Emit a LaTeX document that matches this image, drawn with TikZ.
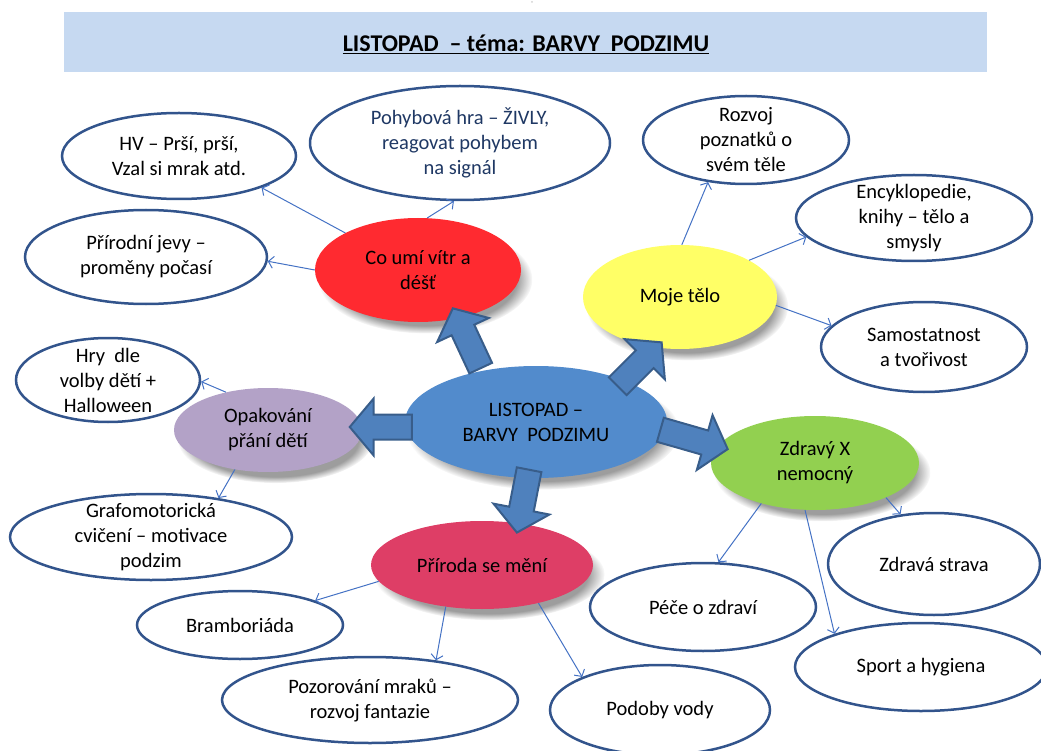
\documentclass[tikz,border=0pt]{standalone}
\usepackage{fontspec}
\setmainfont{Carlito}
\usepackage{xcolor}
\usepackage{tikz}
\usetikzlibrary{shapes.geometric,shapes.arrows,arrows.meta,shadows,fadings}

\definecolor{bandblue}{RGB}{198,217,241}
\definecolor{rimblue}{RGB}{50,84,140}
\definecolor{linkblue}{RGB}{68,114,196}
\definecolor{hubblue}{RGB}{82,139,204}
\definecolor{arrowblue}{RGB}{79,129,189}
\definecolor{arrowrim}{RGB}{56,93,138}
\definecolor{rainred}{RGB}{255,42,48}
\definecolor{bodyyellow}{RGB}{255,255,102}
\definecolor{wishlilac}{RGB}{179,162,199}
\definecolor{healthgreen}{RGB}{146,208,80}
\definecolor{naturepink}{RGB}{222,62,102}
\definecolor{navytext}{RGB}{31,56,100}

\begin{document}
\begin{tikzpicture}[x=1pt,y=-1pt,
		every node/.style={font=\fontsize{20.5}{25}\selectfont, align=center},
		topic/.style={ellipse, draw=rimblue, line width=2.5pt, fill=white, inner sep=-8pt},
		softshadow/.style={circular drop shadow={shadow xshift=7pt, shadow yshift=-9pt, shadow scale=1.04, opacity=0.55, fill=black!70}},
		theme/.style={ellipse, fill=#1, inner sep=-8pt, softshadow},
		link/.style={draw=linkblue, line width=1pt, -{Straight Barb[length=5pt,width=12pt]}},
		bigarrow/.style={single arrow, draw=arrowrim, line width=2pt, fill=arrowblue, inner xsep=0pt, inner ysep=11.5pt,
			minimum width=0pt, single arrow head extend=16pt, single arrow tip angle=100}]
	\useasboundingbox (0,0) rectangle (1041,751);
	\fill[bandblue] (64,12) rectangle (987,72);
	\node[font=\tiny] (mark) at (532,4) {¨};
	\node[font=\fontsize{24}{28}\selectfont\bfseries, anchor=base] (title) at (526,52) {\underline{LISTOPAD\ \ – téma: BARVY\ \ PODZIMU}};

	\node[topic, minimum width=234pt, minimum height=86pt] (hv) at (179,156) {HV – Prší, prší,\\Vzal si mrak atd.};
	\node[topic, minimum width=300pt, minimum height=114pt, text=navytext] (pohyb) at (460,143) {Pohybová hra – ŽIVLY,\\reagovat pohybem\\na signál};
	\node[topic, minimum width=242pt, minimum height=94pt] (jevy) at (146,257) {Přírodní jevy –\\proměny počasí};
	\node[topic, minimum width=206pt, minimum height=88pt] (rozvoj) at (746,140) {Rozvoj\\poznatků o\\svém těle};
	\node[topic, minimum width=236pt, minimum height=86pt] (encyk) at (914,218) {Encyklopedie,\\knihy – tělo a\\smysly};
	\node[topic, minimum width=206pt, minimum height=90pt] (samost) at (924,347) {Samostatnost\\a tvořivost};
	\node[topic, minimum width=184pt, minimum height=84pt] (hry) at (108,380) {Hry\ \ dle\\volby dětí +\\Halloween};
	\node[topic, minimum width=282pt, minimum height=86pt] (grafo) at (151,537) {Grafomotorická\\cvičení – motivace\\podzim};
	\node[topic, minimum width=206pt, minimum height=68pt] (brambor) at (240,625) {Bramboriáda};
	\node[topic, minimum width=296pt, minimum height=86pt] (mraky) at (370,700) {Pozorování mraků –\\rozvoj fantazie};
	\node[topic, minimum width=220pt, minimum height=90pt] (voda) at (660,710) {Podoby vody};
	\node[topic, minimum width=226pt, minimum height=88pt] (pece) at (703,607) {Péče o zdraví};
	\node[topic, minimum width=212pt, minimum height=102pt] (strava) at (934,564) {Zdravá strava};
	\node[topic, minimum width=252pt, minimum height=88pt] (sport) at (921,667) {Sport a hygiena};

	\node[theme=hubblue, minimum width=262pt, minimum height=112pt] (hub) at (536,422) {LISTOPAD –\\BARVY\ \ PODZIMU};
	\node[theme=rainred, minimum width=206pt, minimum height=104pt] (rain) at (418,270) {Co umí vítr a\\déšť};
	\node[theme=bodyyellow, minimum width=194pt, minimum height=104pt] (body) at (680,297) {Moje tělo};
	\node[theme=wishlilac, minimum width=188pt, minimum height=84pt] (wish) at (268,430) {Opakování\\přání dětí};
	\node[theme=healthgreen, minimum width=208pt, minimum height=94pt] (health) at (815,463) {Zdravý X\\nemocný};
	\node[theme=naturepink, minimum width=222pt, minimum height=88pt] (nature) at (482,565) {Příroda se mění};

	\node[bigarrow, minimum height=66pt, rotate=115] (toRain) at (469,343) {};
	\node[bigarrow, minimum height=62pt, rotate=45] (toBody) at (636,368) {};
	\node[bigarrow, minimum height=62pt, rotate=180] (toWish) at (386,427) {};
	\node[bigarrow, minimum height=70pt, rotate=-16] (toHealth) at (689,438) {};
	\node[bigarrow, minimum height=64pt, rotate=259] (toNature) at (524,496) {};

	\draw[link] (rain.153) -- (hv.-21);
	\draw[link] (rain.180) -- (jevy.-2);
	\draw[link] (rain.80) -- (pohyb.-96);
	\draw[link] (body.88) -- (rozvoj.228);
	\draw[link] (body.28) -- (encyk.190);
	\draw[link] (body.-5) -- (samost.167);
	\draw[link] (wish.138) -- (hry.-1);
	\draw[link] (wish.230) -- (grafo.30);
	\draw[link] (nature.189) -- (brambor.18);
	\draw[link] (nature.229) -- (mraky.31);
	\draw[link] (nature.326) -- (voda.157);
	\draw[link] (health.217) -- (pece.71);
	\draw[link] (health.258) -- (sport.159);
	\draw[link] (health.334) -- (strava.124);
\end{tikzpicture}
\end{document}
